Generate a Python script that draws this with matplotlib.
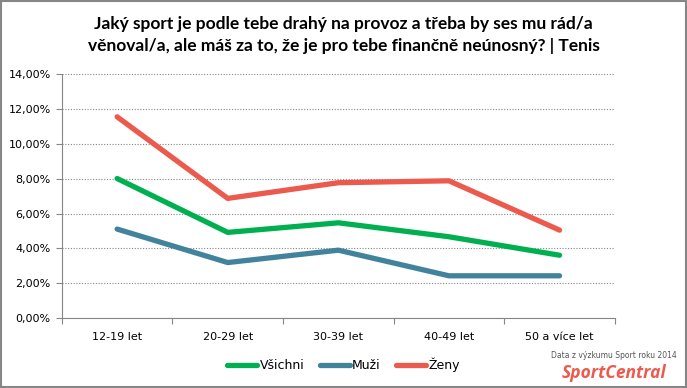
import matplotlib
matplotlib.use("Agg")
import matplotlib.pyplot as plt
from matplotlib.patches import Rectangle
from matplotlib.ticker import FuncFormatter, MultipleLocator

# Data (share of respondents, %)
categories = ["12-19 let", "20-29 let", "30-39 let", "40-49 let", "50 a více let"]
vsichni = [8.01, 4.92, 5.47, 4.67, 3.61]
muzi = [5.11, 3.19, 3.90, 2.43, 2.43]
zeny = [11.55, 6.87, 7.77, 7.88, 5.05]

series = [("Všichni", vsichni, "#00b050"),
          ("Muži", muzi, "#41839c"),
          ("Ženy", zeny, "#ec5a4d")]

TITLE = ("Jaký sport je podle tebe drahý na provoz a třeba by ses mu rád/a\n"
         "věnoval/a, ale máš za to, že je pro tebe finančně neúnosný? | Tenis")

fig = plt.figure(figsize=(6.87, 3.88), dpi=100)
ax = fig.add_axes([0.090, 0.180, 0.805, 0.629])

x = range(len(categories))
for name, vals, color in series:
    ax.plot(x, vals, color=color, lw=3.8, solid_capstyle="round",
            solid_joinstyle="round", label=name)

ax.set_xlim(-0.5, len(categories) - 0.5)
ax.set_ylim(0, 14)
ax.yaxis.set_major_locator(MultipleLocator(2))
ax.yaxis.set_major_formatter(FuncFormatter(lambda v, _: f"{v:.2f}%".replace(".", ",")))
# category boundaries carry the tick marks, labels sit between them
ax.set_xticks([i - 0.5 for i in range(len(categories) + 1)])
ax.set_xticklabels([])
ax.set_xticks(list(x), minor=True)
ax.set_xticklabels(categories, minor=True)
ax.tick_params(axis="x", which="minor", length=0, pad=10, labelsize=8)
ax.tick_params(axis="x", which="major", length=4, color="#868686", direction="out")
ax.tick_params(axis="y", length=4, color="#868686", labelsize=8, pad=4)

ax.grid(axis="y", linestyle=(0, (1, 1.5)), color="#868686", lw=0.8)
ax.set_axisbelow(True)
for side in ("top", "right"):
    ax.spines[side].set_visible(False)
for side in ("left", "bottom"):
    ax.spines[side].set_color("#868686")

fig.text(0.5, 0.909, TITLE, ha="center", va="center", fontsize=12.5,
         fontweight="bold", family="Lato", linespacing=1.45)

fig.legend(loc="center", bbox_to_anchor=(0.50, 0.06), ncol=3, frameon=False,
           fontsize=9, handlelength=2.4, handletextpad=0.2, columnspacing=1.2)

fig.text(0.893, 0.085, "Data z výzkumu Sport roku 2014", ha="center", va="center",
         fontsize=5.5, color="#555555")
fig.text(0.893, 0.038, "SportCentral", ha="center", va="center", fontsize=12.5,
         fontweight="bold", style="italic", family="Open Sans", color="#ec5a4d")

fig.patches.append(Rectangle((0.002, 0.003), 0.996, 0.994, transform=fig.transFigure,
                             fill=False, ec="#868686", lw=1.5))

fig.savefig("out.png", dpi=100)
